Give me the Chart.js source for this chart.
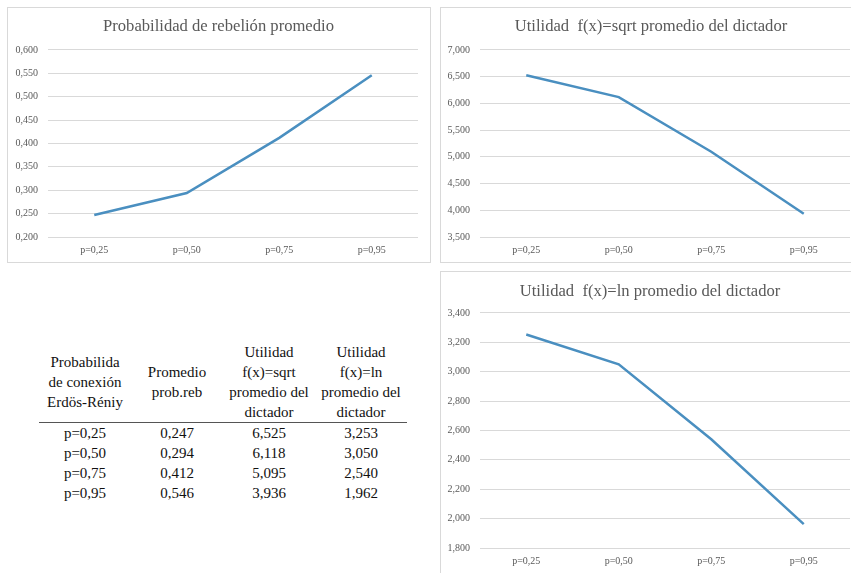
<!DOCTYPE html>
<html>
<head>
<meta charset="utf-8">
<script src="https://cdn.jsdelivr.net/npm/chart.js@4.4.1/dist/chart.umd.min.js"></script>
<style>
  body { margin: 0; background: #fff; width: 851px; height: 573px; overflow: hidden; position: relative; font-family: "Liberation Serif", "Times New Roman", "DejaVu Serif", serif; }
  canvas { position: absolute; }
  #c1 { left: 7px; top: 7px; }
  #c2 { left: 440px; top: 7px; }
  #c3 { left: 440px; top: 271px; }
  table { position: absolute; left: 39px; top: 342px; border-collapse: collapse; table-layout: fixed; font-family: "Liberation Serif", "Times New Roman", serif; font-size: 15px; line-height: 20px; color: #111; }
  th, td { width: 92px; padding: 0; text-align: center; font-weight: normal; }
  thead th { border-bottom: 1.5px solid #555; vertical-align: middle; }
</style>
</head>
<body>
<canvas id="c1" width="424" height="256"></canvas>
<canvas id="c2" width="411" height="256"></canvas>
<canvas id="c3" width="411" height="302"></canvas>
<table id="tab">
  <thead>
    <tr>
      <th>Probabilida<br>de conexión<br>Erdös-Réniy</th>
      <th>Promedio<br>prob.reb</th>
      <th>Utilidad<br>f(x)=sqrt<br>promedio del<br>dictador</th>
      <th>Utilidad<br>f(x)=ln<br>promedio del<br>dictador</th>
    </tr>
  </thead>
  <tbody id="rows"></tbody>
</table>
<script>
// data
const categories = ['p=0,25', 'p=0,50', 'p=0,75', 'p=0,95'];
const rebelion = [0.247, 0.294, 0.412, 0.546];
const utilSqrt = [6.525, 6.118, 5.095, 3.936];
const utilLn = [3.253, 3.050, 2.540, 1.962];

const rebelionTicks = [0.2, 0.25, 0.3, 0.35, 0.4, 0.45, 0.5, 0.55, 0.6];
const sqrtTicks = [3.5, 4, 4.5, 5, 5.5, 6, 6.5, 7];
const lnTicks = [1.8, 2, 2.2, 2.4, 2.6, 2.8, 3, 3.2, 3.4];

const fmt = v => v.toFixed(3).replace('.', ',');

// table body from the same arrays
const tbody = document.getElementById('rows');
categories.forEach((c, i) => {
  const tr = document.createElement('tr');
  [c, fmt(rebelion[i]), fmt(utilSqrt[i]), fmt(utilLn[i])].forEach(t => {
    const td = document.createElement('td');
    td.textContent = t;
    tr.appendChild(td);
  });
  tbody.appendChild(tr);
});

// light grey frame around each chart box, and a small nudge for the title
const frame = {
  id: 'frame',
  afterLayout(chart, args, opts) {
    const t = chart.titleBlock;
    if (t && opts.shift) { t.left += opts.shift; t.right += opts.shift; }
  },
  beforeDraw(chart, args, opts) {
    const c = chart.ctx, w = chart.width, h = chart.height;
    const s = opts.sides || 'tlrb';
    c.save();
    c.strokeStyle = '#d9d9d9';
    c.lineWidth = 1;
    c.beginPath();
    if (s.includes('t')) { c.moveTo(0, 0.5); c.lineTo(w, 0.5); }
    if (s.includes('b')) { c.moveTo(0, h - 0.5); c.lineTo(w, h - 0.5); }
    if (s.includes('l')) { c.moveTo(0.5, 0); c.lineTo(0.5, h); }
    if (s.includes('r')) { c.moveTo(w - 0.5, 0); c.lineTo(w - 0.5, h); }
    c.stroke();
    c.restore();
  }
};

const serif = '"Liberation Serif", "Times New Roman", serif';
const tickFont = { family: serif, size: 10 };

function lineChart(id, title, values, ticks, o) {
  return new Chart(document.getElementById(id), {
    type: 'line',
    data: {
      labels: categories,
      datasets: [{
        data: values,
        borderColor: '#4a8fc0',
        borderWidth: 2.5,
        pointRadius: 0,
        tension: 0,
        fill: false
      }]
    },
    plugins: [frame],
    options: {
      responsive: false,
      animation: false,
      layout: { padding: { left: 0, right: o.right, top: 0, bottom: 0 } },
      plugins: {
        legend: { display: false },
        tooltip: { enabled: false },
        frame: { sides: o.sides, shift: o.shift },
        title: {
          display: true,
          text: title,
          color: '#595959',
          font: { family: serif, size: 16.6, weight: 'normal', lineHeight: 1.2 },
          padding: { top: o.titleTop, bottom: o.titleBottom }
        }
      },
      scales: {
        x: {
          offset: true,
          grid: { display: false, drawTicks: false },
          border: { display: false },
          ticks: { color: '#595959', font: tickFont, padding: 7, maxRotation: 0 },
          afterFit(s) { s.height = o.xh; }
        },
        y: {
          min: ticks[0],
          max: ticks[ticks.length - 1],
          afterBuildTicks(s) { s.ticks = ticks.map(v => ({ value: v })); },
          grid: { color: '#d9d9d9', lineWidth: 1, drawTicks: false },
          border: { display: false },
          ticks: { color: '#595959', font: tickFont, padding: 10, callback: v => fmt(v) },
          afterFit(s) { s.width = o.yw; }
        }
      }
    }
  });
}

lineChart('c1', 'Probabilidad de rebelión promedio', rebelion, rebelionTicks,
  { right: 13, yw: 41, xh: 26, titleTop: 10, titleBottom: 13, sides: 'tlrb', shift: 6 });
lineChart('c2', 'Utilidad  f(x)=sqrt promedio del dictador', utilSqrt, sqrtTicks,
  { right: 1, yw: 40, xh: 26, titleTop: 10, titleBottom: 13, sides: 'tlb', shift: 6 });
lineChart('c3', 'Utilidad  f(x)=ln promedio del dictador', utilLn, lnTicks,
  { right: 1, yw: 40, xh: 25, titleTop: 11, titleBottom: 11, sides: 'tl', shift: 5 });
</script>
</body>
</html>
